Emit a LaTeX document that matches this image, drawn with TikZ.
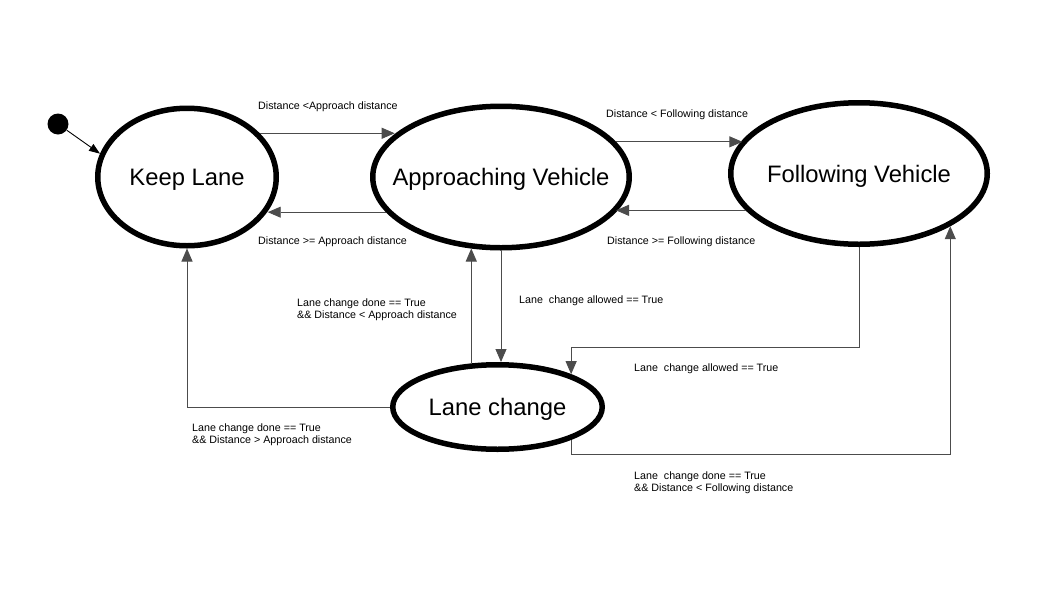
\documentclass[tikz,border=0pt]{standalone}
\usepackage{fontspec}
\setmainfont{Liberation Sans}
\usetikzlibrary{positioning,shapes.geometric,arrows.meta}

\begin{document}
\begin{tikzpicture}[x=1pt,y=-1pt,
  state/.style={ellipse, draw, line width=5.5pt, inner xsep=-40pt, inner ysep=0pt,
    text height=17pt, text depth=0pt, font=\fontsize{23.8}{28}\selectfont},
  trans/.style={draw=black!70, line width=0.9pt, -{Triangle[length=13pt,width=11pt]}},
  lbl/.style={font=\fontsize{10.7}{12}\selectfont, align=left, inner sep=0pt, anchor=base west}]
  \useasboundingbox (0,0) rectangle (1058,595);

  % States
  \node[state, minimum width=178.5pt, minimum height=137.5pt] (keep) at (187,177) {Keep Lane};
  \node[state, minimum width=256.5pt, minimum height=141.5pt] (appr) at (501,177) {Approaching Vehicle};
  \node[state, minimum width=256.5pt, minimum height=141.5pt] (foll) at (859,173.5) {Following Vehicle};
  \node[state, minimum width=209.5pt, minimum height=84.5pt] (lc) at (497.5,407) {Lane change};

  % Start
  \node[circle, fill, inner sep=0pt, minimum size=21pt] (init) at (58,124) {};
  \draw[trans, draw=black, -{Triangle[length=11pt,width=8pt]}] (init) -- (keep.165);

  % Transitions
  \draw[trans] (keep.31) -- (keep.31 -| appr.158);
  \draw[trans] (appr.197) -- (appr.197 -| keep.-23);
  \draw[trans] (appr.17) -- (appr.17 -| foll.164);
  \draw[trans] (foll.198) -- (foll.198 -| appr.-17);
  \draw[trans] (appr.south) -- (appr.south |- lc.north);
  \draw[trans] (lc.121) -- (lc.121 |- appr.247);
  \draw[trans] (lc.west) -| (keep.south);
  \draw[trans] (foll.south) -- ++(0,100) -| (lc.24);
  \draw[trans] (lc.-24) -- ++(0,15) -| (foll.-30);

  % Guards
  \node[lbl] (g1) at (258,109) {Distance <Approach distance};
  \node[lbl] (g2) at (258,244) {Distance >= Approach distance};
  \node[lbl] (g3) at (606,117) {Distance < Following distance};
  \node[lbl] (g4) at (607,244) {Distance >= Following distance};
  \node[lbl] (g5) at (519,303) {Lane\ \ change allowed == True};
  \node[lbl] (g6) at (297,318) {Lane change done == True\\\&\& Distance < Approach distance};
  \node[lbl] (g7) at (192,443) {Lane change done == True\\\&\& Distance > Approach distance};
  \node[lbl] (g8) at (634,371) {Lane\ \ change allowed == True};
  \node[lbl] (g9) at (634,491) {Lane\ \ change done == True\\\&\& Distance < Following distance};

\end{tikzpicture}
\end{document}
